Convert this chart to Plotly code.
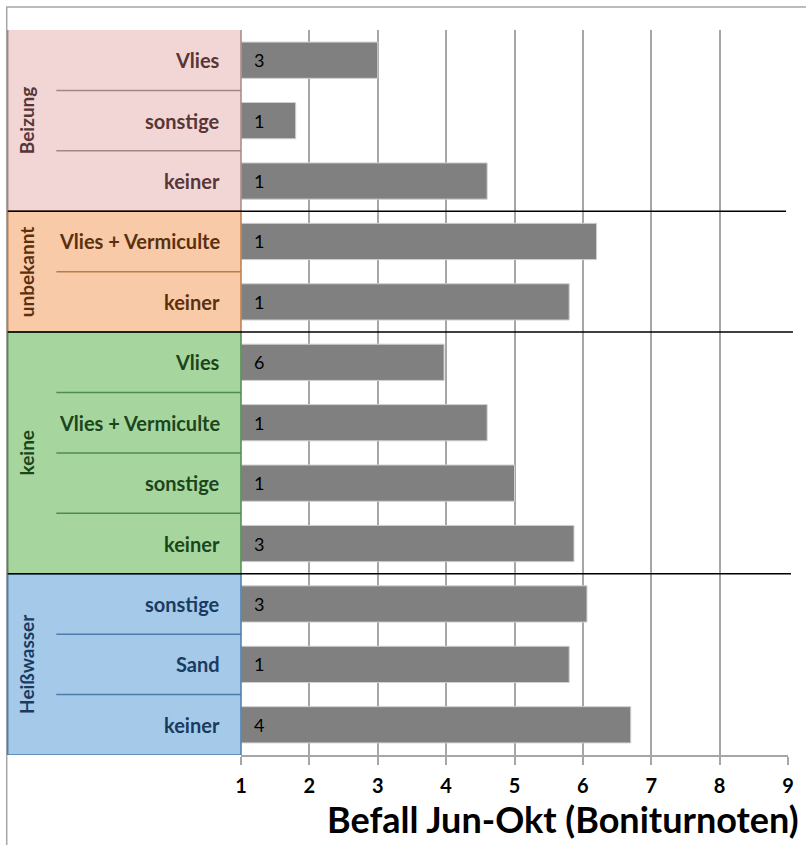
import plotly.graph_objects as go

# Befall durch Bodenpilze je Saatgutbehandlung und Abdeckung
treatment = ["Beizung", "Beizung", "Beizung",
             "unbekannt", "unbekannt",
             "keine", "keine", "keine", "keine",
             "Heißwasser", "Heißwasser", "Heißwasser"]
cover = ["Vlies", "sonstige", "keiner",
         "Vlies + Vermiculte", "keiner",
         "Vlies", "Vlies + Vermiculte", "sonstige", "keiner",
         "sonstige", "Sand", "keiner"]
befall = [3.0, 1.8, 4.6,
          6.2, 5.8,
          3.97, 4.6, 5.0, 5.87,
          6.06, 5.8, 6.7]
n_betriebe = [3, 1, 1,
              1, 1,
              6, 1, 1, 3,
              3, 1, 4]
tick_values = [1, 2, 3, 4, 5, 6, 7, 8, 9]
axis_title = "Befall Jun-Okt (Boniturnoten)"

group_style = {
    "Beizung":    dict(fill="#f2d5d5", edge="#a58686", text="#573636"),
    "unbekannt":  dict(fill="#f8caa7", edge="#b97c4c", text="#5c300e"),
    "keine":      dict(fill="#a7d59e", edge="#4f8b4f", text="#1b461b"),
    "Heißwasser": dict(fill="#a5c9e9", edge="#4c7ca9", text="#1a3b60"),
}

FONT = "Lato"
W, H = 806, 845
L, R, T, B = 241, 14, 30, 90
PW = W - L - R
PH = H - T - B


def px(xp):
    """pixel x -> paper x"""
    return (xp - L) / PW


def py(yp):
    """pixel y -> paper y"""
    return 1 - (yp - T) / PH


rows = list(range(len(cover)))
x_min = tick_values[0]

fig = go.Figure()
fig.add_trace(go.Bar(
    y=rows,
    x=[v - x_min for v in befall],
    base=x_min,
    orientation="h",
    width=0.6,
    marker=dict(color="#808080", line=dict(color="#d0d0d0", width=1)),
    hoverinfo="skip",
))

shapes = []
annotations = []

# group blocks on the left
groups = []
for i, t in enumerate(treatment):
    if not groups or groups[-1][0] != t:
        groups.append([t, i, i])
    else:
        groups[-1][2] = i

for gi, (name, start, end) in enumerate(groups):
    st = group_style[name]
    top = start - 0.5 - (0.1 if gi == 0 else 0)
    shapes.append(dict(type="rect", xref="paper", yref="y",
                       x0=px(6), x1=0, y0=top, y1=end + 0.5,
                       fillcolor=st["fill"], line=dict(color=st["edge"], width=1.5),
                       layer="above"))
    for k in range(start, end):
        shapes.append(dict(type="line", xref="paper", yref="y",
                           x0=px(55), x1=0, y0=k + 0.5, y1=k + 0.5,
                           line=dict(color=st["edge"], width=1.5), layer="above"))
    annotations.append(dict(xref="paper", yref="y", x=px(25), y=(start + end) / 2,
                            text=f"<b>{name}</b>", textangle=-90, showarrow=False,
                            font=dict(family=FONT, size=19, color=st["text"]),
                            xanchor="center", yanchor="middle"))
    for k in range(start, end + 1):
        annotations.append(dict(xref="paper", yref="y", x=0, xshift=-19, y=k,
                                text=f"<b>{cover[k]}</b>", showarrow=False,
                                font=dict(family=FONT, size=20, color=st["text"]),
                                xanchor="right", yanchor="middle"))

# black separators between the groups
sep_ends = [790, 797, 795]
for (name, start, end), xe in zip(groups[:-1], sep_ends):
    shapes.append(dict(type="line", xref="paper", yref="y",
                       x0=px(6), x1=px(xe), y0=end + 0.5, y1=end + 0.5,
                       line=dict(color="#000000", width=1.5), layer="above"))

# outer chart frame
shapes.append(dict(type="rect", xref="paper", yref="paper",
                   x0=px(5), x1=px(W + 10), y0=py(H + 10), y1=py(7),
                   line=dict(color="#a6a6a6", width=1.5), fillcolor="rgba(0,0,0,0)",
                   layer="below"))

# counts inside the bars
for i in rows:
    annotations.append(dict(xref="x", yref="y", x=x_min, y=i, xshift=11,
                            text=str(n_betriebe[i]), showarrow=False,
                            font=dict(family=FONT, size=18, color="#000000"),
                            xanchor="left", yanchor="middle"))

annotations.append(dict(xref="paper", yref="paper", x=px(805), y=py(819),
                        text=f"<b>{axis_title}</b>", showarrow=False,
                        font=dict(family=FONT, size=36, color="#000000"),
                        xanchor="right", yanchor="middle"))

fig.update_layout(
    width=W, height=H,
    margin=dict(l=L, r=R, t=T, b=B),
    plot_bgcolor="white", paper_bgcolor="white",
    showlegend=False,
    shapes=shapes,
    annotations=annotations,
    xaxis=dict(range=[tick_values[0], tick_values[-1]], tickvals=tick_values,
               ticks="outside", ticklen=8, tickwidth=2, tickcolor="#a6a6a6",
               showline=True, linecolor="#a6a6a6", linewidth=2,
               showgrid=True, gridcolor="#a6a6a6", gridwidth=2, zeroline=False,
               ticklabelstandoff=4,
               tickfont=dict(family=FONT, size=20, color="#000000", weight="bold")),
    yaxis=dict(range=[len(rows) - 0.5, -0.5], visible=False, fixedrange=True),
)

fig.write_html("out.html")
